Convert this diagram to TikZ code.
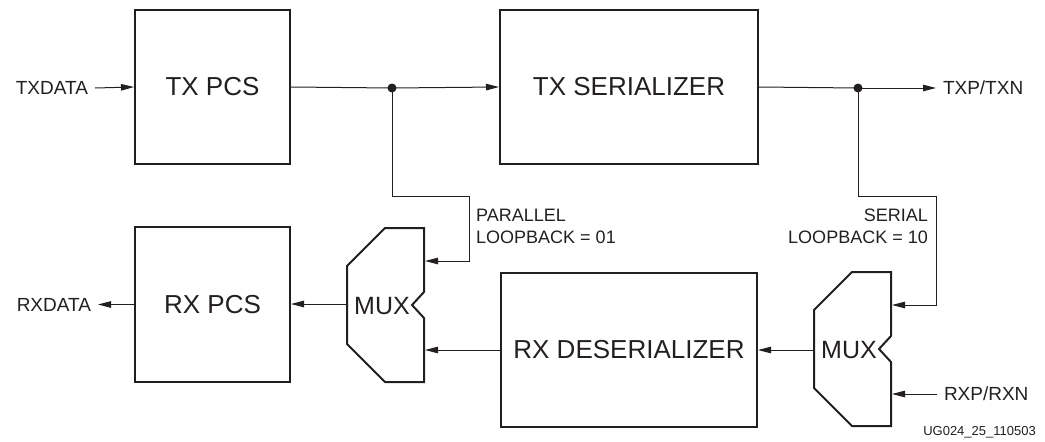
\documentclass[tikz,border=0pt]{standalone}
\usepackage{fontspec}
\setmainfont{Liberation Sans}
\usetikzlibrary{arrows.meta}
\definecolor{ink}{HTML}{231F20}
\begin{document}
\begin{tikzpicture}[x=1pt,y=-1pt,
  blk/.style={draw=ink,line width=2pt,inner sep=0pt,text=ink,font=\fontsize{26}{30}\selectfont},
  muxtxt/.style={inner sep=0pt,text=ink,font=\fontsize{25}{30}\selectfont},
  lbl/.style={inner sep=0pt,outer xsep=7pt,text=ink,font=\fontsize{19}{22}\selectfont},
  loopl/.style={inner sep=0pt,text=ink,font=\fontsize{18}{22}\selectfont},
  wire/.style={draw=ink,line width=1pt},
  arr/.style={wire,-{Triangle[length=13pt,width=6.5pt]}},
  muxline/.style={draw=ink,line width=2pt,line join=miter}
]
\useasboundingbox (0,0) rectangle (1045,442);

% blocks
\node[blk,minimum width=155pt,minimum height=154pt] (txpcs) at (212.5,87) {TX PCS};
\node[blk,minimum width=258pt,minimum height=154pt] (txser) at (629,87) {TX SERIALIZER};
\node[blk,minimum width=155pt,minimum height=155pt] (rxpcs) at (212.5,304.5) {RX PCS};
\node[blk,minimum width=256pt,minimum height=154pt] (rxdes) at (629,350) {RX DESERIALIZER};

% muxes
\newcommand{\muxoutline}{(38,0) -- (77,0) -- (77,64) -- (65,77) -- (77,90) -- (77,154) -- (38,154) -- (0,116) -- (0,38) -- cycle}
\begin{scope}[shift={(347,228)}]
  \draw[muxline] \muxoutline;
\end{scope}
\begin{scope}[shift={(814,272)}]
  \draw[muxline] \muxoutline;
\end{scope}
\node[muxtxt] (mux1) at (382,306) {MUX};
\node[muxtxt] (mux2) at (849,350) {MUX};

% ports
\coordinate (m1in1) at (425,261);
\coordinate (m1in2) at (425,350);
\coordinate (m1out) at (347,304);
\coordinate (m2in1) at (892,305);
\coordinate (m2in2) at (892,394);
\coordinate (m2out) at (814,350);
\coordinate (dot1) at (392,88);
\coordinate (dot2) at (858,88);
\coordinate (pl) at (469,196);
\coordinate (sl) at (936,196);

% labels
\node[lbl,anchor=east] (txdata) at (95,88) {TXDATA};
\node[lbl,anchor=east] (rxdata) at (98,305) {RXDATA};
\node[lbl,anchor=west] (txp) at (936,88) {TXP/TXN};
\node[lbl,anchor=west] (rxp) at (937,394) {RXP/RXN};
\node[loopl,anchor=north west,align=left] (plab) at (476,208.5) {PARALLEL\\LOOPBACK = 01};
\node[loopl,anchor=north east,align=right] (slab) at (928,208.5) {SERIAL\\LOOPBACK = 10};
\node[inner sep=0pt,anchor=east,text=ink,font=\fontsize{13}{15}\selectfont] (fig) at (1036,432) {UG024\_25\_110503};

% connectors
\draw[arr] (txdata.east) -- (txpcs.west);
\draw[wire] (txpcs.east) -- (dot1);
\draw[arr] (dot1) -- (txser.west);
\draw[wire] (txser.east) -- (dot2);
\draw[arr] (dot2) -- (txp.west);
\draw[arr] (dot1) |- (pl) |- (m1in1);
\draw[arr] (dot2) |- (sl) |- (m2in1);
\draw[arr] (rxdes.west) -- (m1in2);
\draw[arr] (m1out) -- (rxpcs.east |- m1out);
\draw[arr] (rxpcs.west) -- (rxdata.east |- rxpcs.west);
\draw[arr] (m2out) -- (rxdes.east);
\draw[arr] (rxp.west) -- (m2in2);
\fill[ink] (dot1) circle (4.5pt);
\fill[ink] (dot2) circle (4.5pt);
\end{tikzpicture}
\end{document}
